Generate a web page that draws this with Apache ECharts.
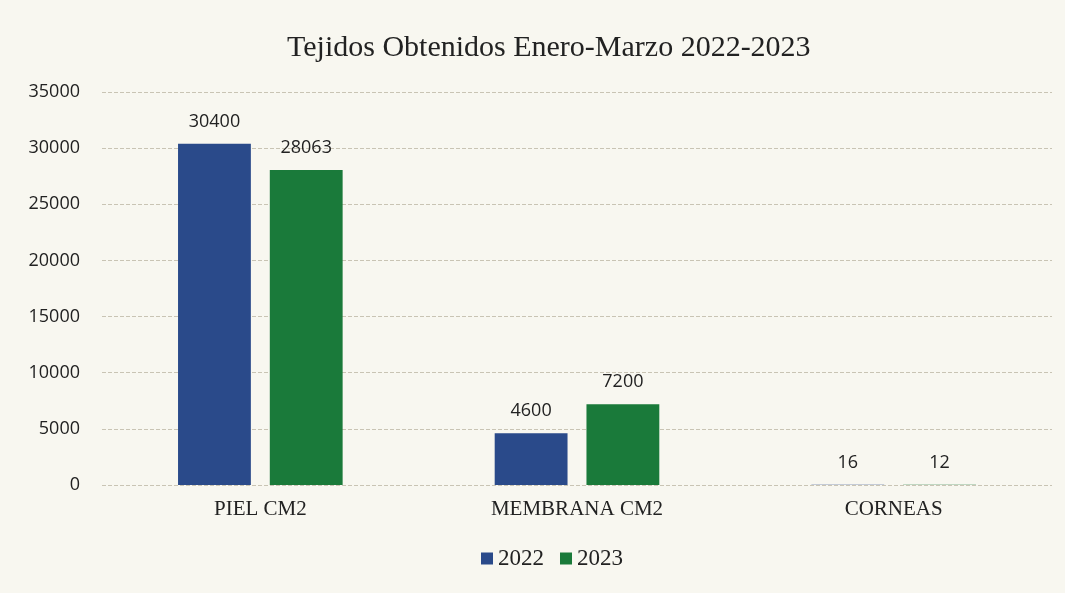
<!DOCTYPE html>
<html>
<head>
<meta charset="utf-8">
<script src="https://cdn.jsdelivr.net/npm/echarts@6/dist/echarts.min.js"></script>
<style>
  html, body { margin: 0; padding: 0; background: #f8f7f0; }
  #chart { width: 1065px; height: 593px; }
</style>
</head>
<body>
<div id="chart"></div>
<script>
var categories = ['PIEL CM2', 'MEMBRANA CM2', 'CORNEAS'];
var values2022 = [30400, 4600, 16];
var values2023 = [28063, 7200, 12];

var chartDom = document.getElementById('chart');
var myChart = echarts.init(chartDom);
var option;

option = {
    backgroundColor: '#f8f7f0',
    title: {
        text: 'Tejidos Obtenidos Enero-Marzo 2022-2023',
        left: 282,
        top: 28,
        textStyle: {
            fontFamily: 'Liberation Serif',
            fontWeight: 'normal',
            fontSize: 30,
            color: '#222'
        }
    },
    legend: {
        bottom: 18,
        left: 476,
        itemWidth: 12,
        itemHeight: 12,
        itemGap: 16,
        icon: 'rect',
        textStyle: {
            fontFamily: 'Liberation Serif',
            fontSize: 23,
            color: '#222'
        },
        data: ['2022', '2023']
    },
    grid: {
        left: 102,
        right: 13,
        top: 92,
        bottom: 108
    },
    xAxis: {
        type: 'category',
        data: categories,
        axisLine: { show: false },
        axisTick: { show: false },
        axisLabel: {
            margin: 14,
            fontFamily: 'Liberation Serif',
            fontSize: 21,
            color: '#222'
        }
    },
    yAxis: {
        type: 'value',
        min: 0,
        max: 35000,
        interval: 5000,
        axisLabel: {
            margin: 22,
            fontFamily: 'Open Sans',
            fontSize: 18,
            color: '#222',
            formatter: function (v) { return String(v); }
        },
        splitLine: {
            lineStyle: { color: '#c9c4b4', type: 'dashed' }
        }
    },
    series: [{
        name: '2022',
        type: 'bar',
        data: values2022,
        barWidth: '23%',
        barGap: '26%',
        itemStyle: { color: '#2a4a8a' },
        label: {
            show: true,
            position: 'top',
            distance: 13,
            fontFamily: 'Open Sans',
            fontSize: 18,
            color: '#222'
        }
    }, {
        name: '2023',
        type: 'bar',
        data: values2023,
        barWidth: '23%',
        itemStyle: { color: '#1a7a3a' },
        label: {
            show: true,
            position: 'top',
            distance: 13,
            fontFamily: 'Open Sans',
            fontSize: 18,
            color: '#222'
        }
    }]
};

option && myChart.setOption(option);
</script>
</body>
</html>
